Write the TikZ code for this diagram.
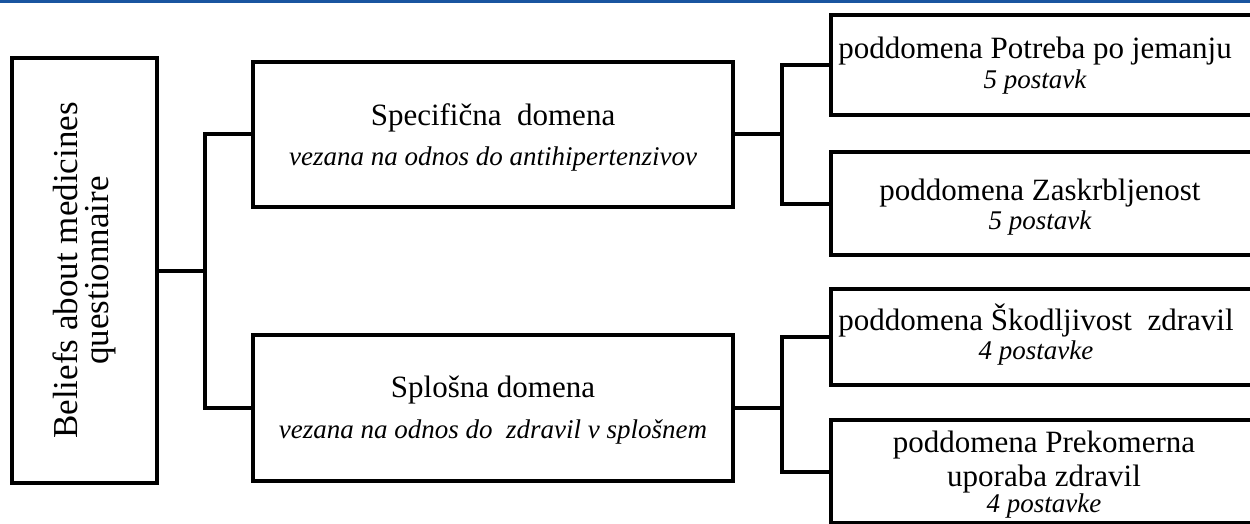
\documentclass[tikz,border=0pt]{standalone}
\usepackage{fontspec}
\setmainfont{Liberation Serif}
\definecolor{topblue}{RGB}{25,85,160}
\tikzset{
  box/.style={draw=black, line width=4pt, rectangle, inner sep=0pt, outer sep=0pt, fill=white},
  conn/.style={draw=black, line width=4pt},
  maintxt/.style={font=\fontsize{31}{31}\selectfont, anchor=base, inner sep=0pt, text=black},
  ittxt/.style={font=\fontsize{27}{27}\selectfont\itshape, anchor=base, inner sep=0pt, text=black},
  lefttxt/.style={font=\fontsize{35}{31}\selectfont, rotate=90, align=center, inner sep=0pt, text=black}
}
\begin{document}
\begin{tikzpicture}[x=1pt,y=-1pt]
\useasboundingbox (0,0) rectangle (1250,524);
\clip (0,0) rectangle (1250,524);
\fill[white] (0,0) rectangle (1250,524);
\fill[topblue] (0,0) rectangle (1250,2.7);

% boxes
\node[box, minimum width=145pt, minimum height=425pt] (bmq) at (84.5,270.5) {};
\node[box, minimum width=480pt, minimum height=145pt] (spec) at (493,134.5) {};
\node[box, minimum width=480pt, minimum height=146pt] (splo) at (493,408) {};
\node[box, minimum width=431pt, minimum height=100pt] (r1) at (1046.5,65) {};
\node[box, minimum width=431pt, minimum height=103pt] (r2) at (1046.5,203.5) {};
\node[box, minimum width=431pt, minimum height=96pt] (r3) at (1046.5,337) {};
\node[box, minimum width=431pt, minimum height=103pt] (r4) at (1046.5,471.5) {};

% junctions
\coordinate (j1) at (205,270.5);
\coordinate (j2) at (782,134.5);
\coordinate (j3) at (782,408);

% connectors
\draw[conn] (bmq.east) -- (j1);
\draw[conn] (spec.west) -| (j1);
\draw[conn] (splo.west) -| (j1);
\draw[conn] (spec.east) -- (j2);
\draw[conn] (r1.west) -| (j2);
\draw[conn] (r2.west) -| (j2);
\draw[conn] (splo.east) -- (j3);
\draw[conn] (r3.west) -| (j3);
\draw[conn] (r4.west) -| (j3);

% texts
\node[lefttxt] (bmqt) at (84.5,270.5) {Beliefs about medicines\\questionnaire};
\node[maintxt] (specA) at (493,125) {Specifična~ domena};
\node[ittxt] (specB) at (493,165) {vezana na odnos do antihipertenzivov};
\node[maintxt] (sploA) at (493,397) {Splošna domena};
\node[ittxt] (sploB) at (493,438) {vezana na odnos do~ zdravil v splošnem};
\node[maintxt] (r1A) at (1035,59) {poddomena Potreba po jemanju};
\node[ittxt] (r1B) at (1035,89) {5 postavk};
\node[maintxt] (r2A) at (1040,200) {poddomena Zaskrbljenost};
\node[ittxt] (r2B) at (1040,229) {5 postavk};
\node[maintxt] (r3A) at (1036,330) {poddomena Škodljivost~ zdravil};
\node[ittxt] (r3B) at (1036,359) {4 postavke};
\node[maintxt] (r4A) at (1044,452) {poddomena Prekomerna};
\node[maintxt] (r4B) at (1044,486) {uporaba zdravil};
\node[ittxt] (r4C) at (1044,512) {4 postavke};
\end{tikzpicture}
\end{document}
